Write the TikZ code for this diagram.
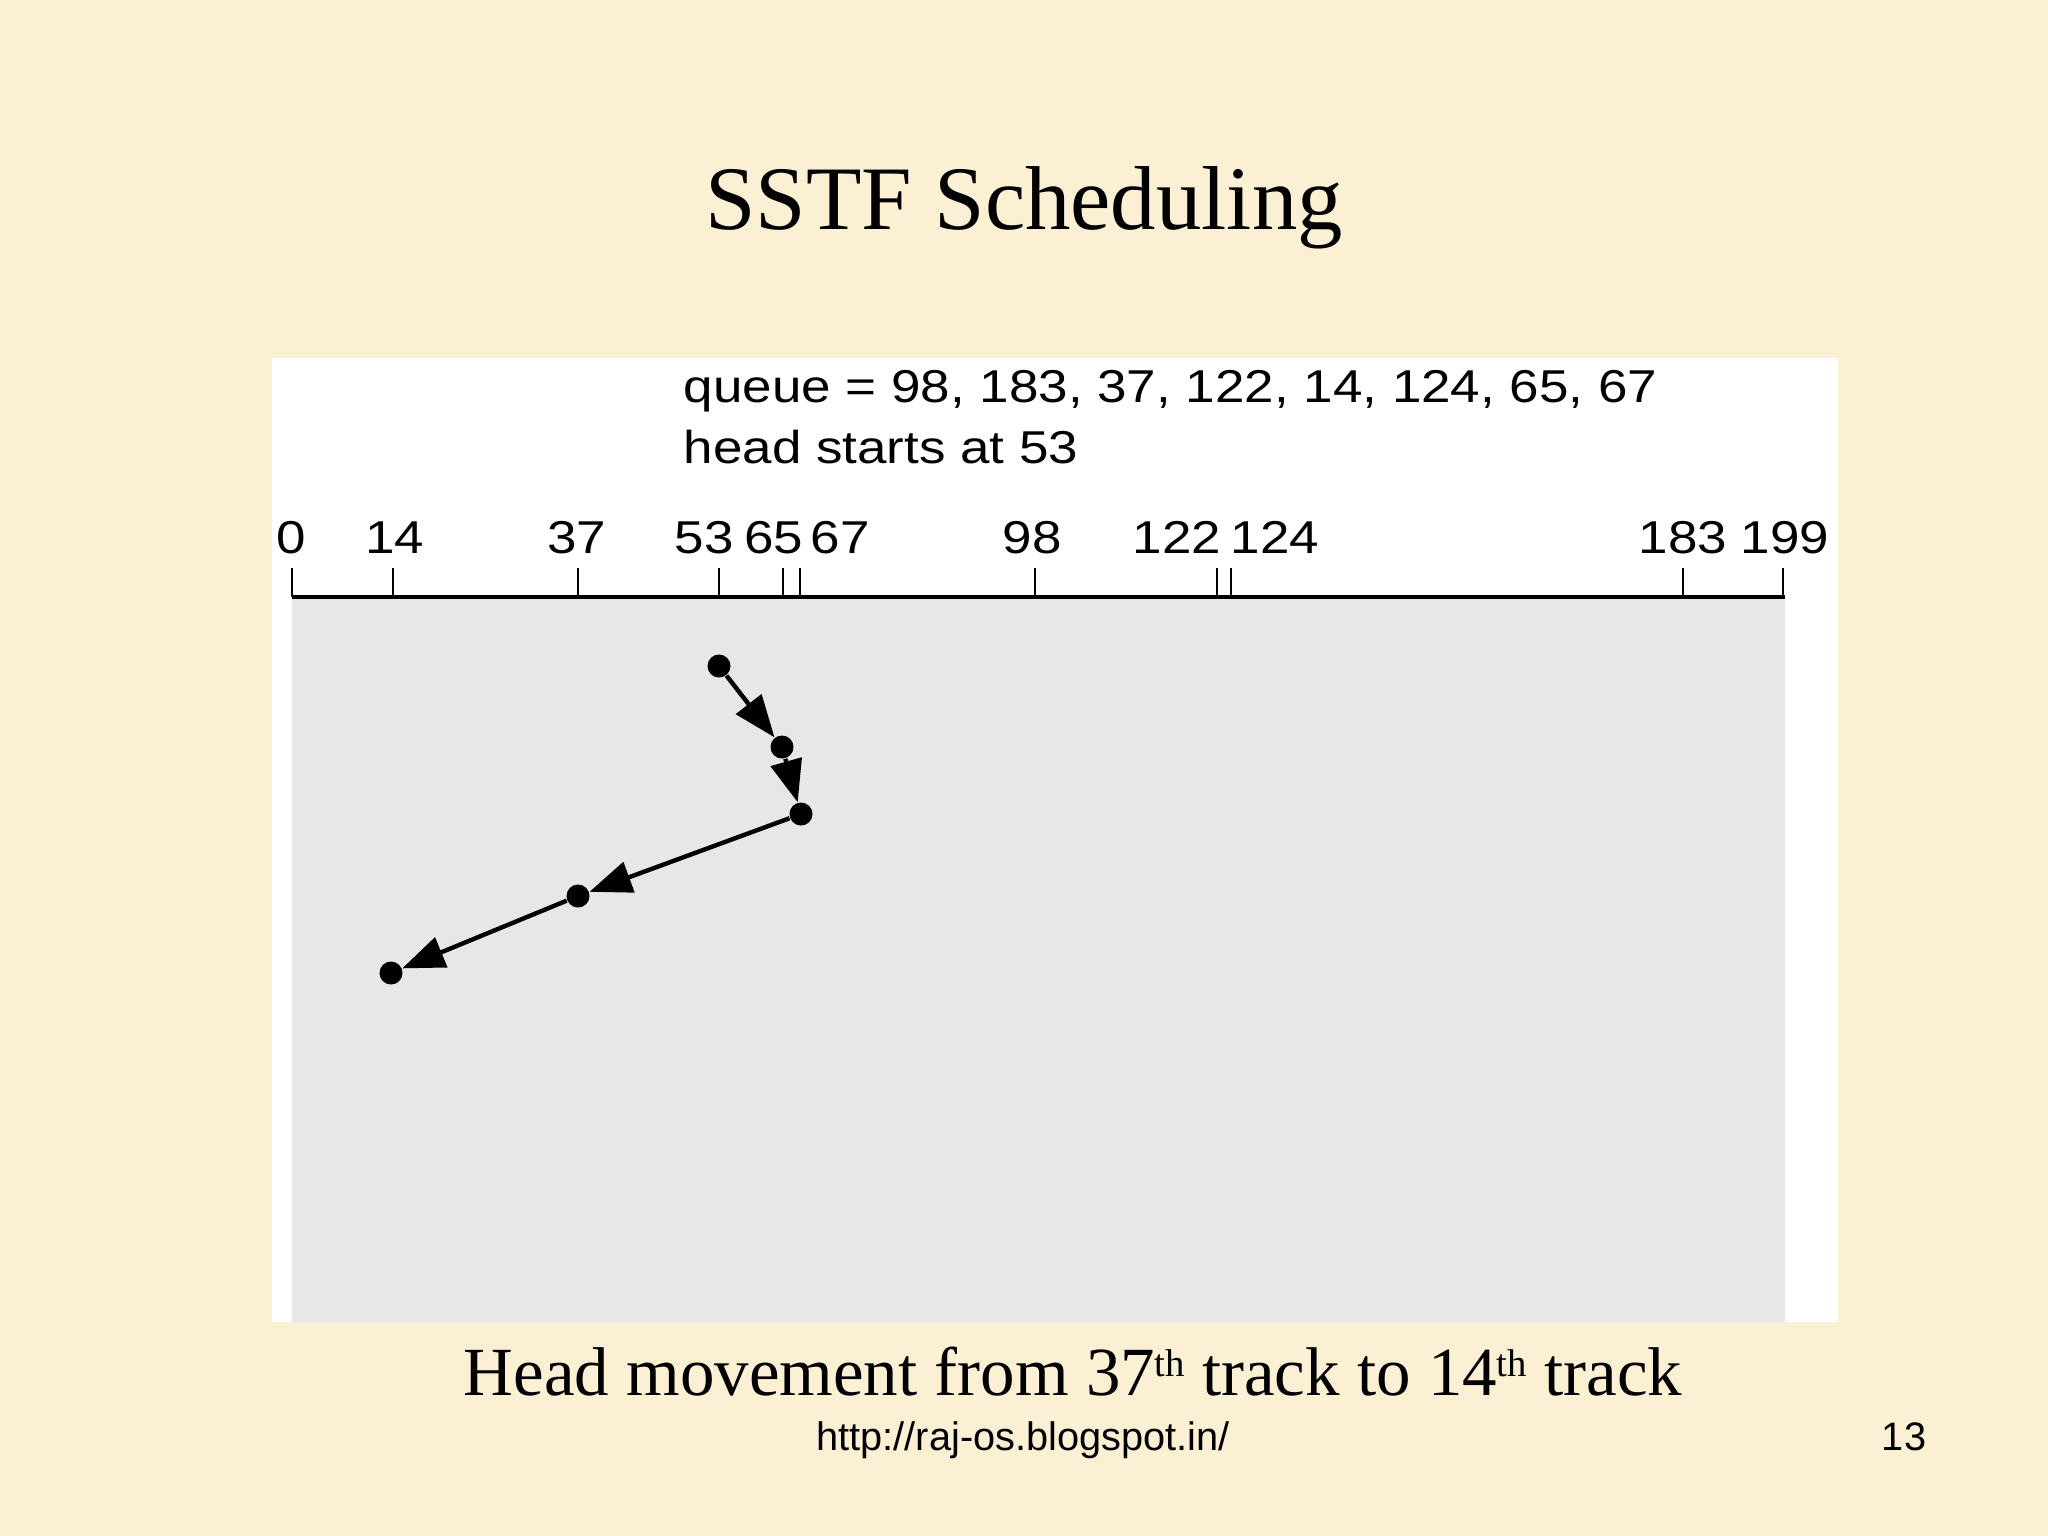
\documentclass[tikz,border=0pt]{standalone}
\usepackage{fontspec}
\setmainfont{Liberation Serif}
\newfontfamily\figfont[FakeStretch=1.15]{Liberation Sans}
\newfontfamily\footfont{Liberation Sans}
\usetikzlibrary{arrows.meta}
\definecolor{slidebg}{RGB}{251,239,212}
\definecolor{trackgray}{RGB}{230,231,233}
\newcommand{\ordth}{\raisebox{0.6ex}{\fontsize{11}{11}\selectfont th}}
\begin{document}
\begin{tikzpicture}[x=0.01cm,y=-0.01cm,
  dot/.style={circle,fill=black,inner sep=0pt,minimum size=0.23cm},
  move/.style={line width=1.25pt,-{Triangle[length=12pt,width=9pt]}},
  lbl/.style={anchor=base,inner sep=0pt,font=\figfont\fontsize{13.1}{15}\selectfont}]
\fill[slidebg] (0,0) rectangle (2048,1536);
\useasboundingbox (0,0) rectangle (2048,1536);
\node[anchor=base,inner sep=0pt,font=\fontsize{25.8}{30}\selectfont] (title) at (1024,229) {SSTF Scheduling};
%\fill[white] (272,358) rectangle (1838,1322);
\fill[white] (272,358) rectangle (1838,1322);
\fill[trackgray] (292,597) rectangle (1785,1322);
\node[lbl,anchor=base west] (queue) at (683,402) {queue = 98, 183, 37, 122, 14, 124, 65, 67};
\node[lbl,anchor=base west] (head) at (683,463) {head starts at 53};
\draw[line width=1pt] (292,597) -- (1785,597);
\foreach \t/\x/\lx in {0/292/291,14/393/395,37/578/577,53/719/704,65/783/774,67/800/840,
    98/1035/1032,122/1217/1177,124/1231/1275,183/1683/1683,199/1783/1785}{
  \draw[line width=0.8pt] (\x,568) -- (\x,597);
  \node[lbl] (t\t) at (\lx,553) {\t};
}
\node[dot] (d53) at (719,666) {};
\node[dot] (d65) at (782,747) {};
\node[dot] (d67) at (801,814) {};
\node[dot] (d37) at (578,896) {};
\node[dot] (d14) at (391,973) {};
\draw[move] (d53) -- (d65);
\draw[move] (d65) -- (d67);
\draw[move] (d67) -- (d37);
\draw[move] (d37) -- (d14);
\node[anchor=base,inner sep=0pt,font=\fontsize{19.6}{24}\selectfont] (caption) at (1073,1395)
  {Head movement from 37\ordth{} track to 14\ordth{} track};
\node[anchor=base,inner sep=0pt,font=\footfont\fontsize{11.3}{13}\selectfont] (url) at (1023,1450) {http://raj-os.blogspot.in/};
\node[anchor=base,inner sep=0pt,font=\footfont\fontsize{11.3}{13}\selectfont] (page) at (1904,1450) {13};
\end{tikzpicture}
\end{document}
